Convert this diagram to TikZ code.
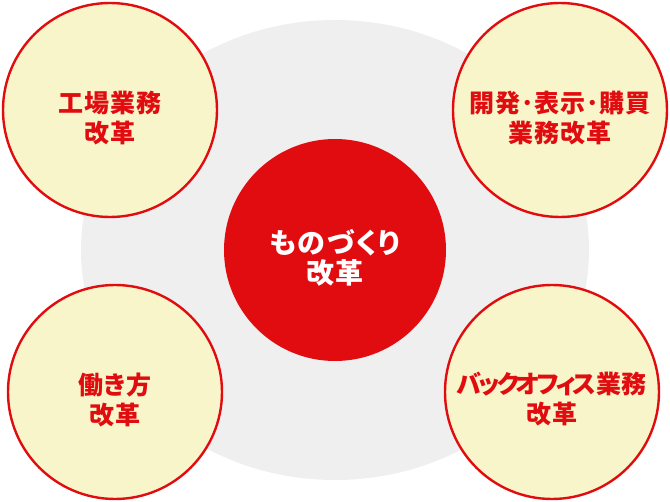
\documentclass[tikz,border=0pt]{standalone}
\usepackage{fontspec}
\usepackage{xcolor}
\usepackage{tikz}
\usetikzlibrary{positioning}
\newfontfamily\jpfont{Noto Sans CJK JP}[CharacterWidth=AlternateProportional,LetterSpace=3]
\definecolor{kaizenred}{HTML}{E10C0F}
\definecolor{kaizenyellow}{HTML}{F7F5C9}
\definecolor{kaizengray}{HTML}{EFEFEF}
\begin{document}
\begin{tikzpicture}[x=1pt,y=-1pt,
	outer/.style={circle,draw=kaizenred,line width=2.4pt,fill=kaizenyellow,minimum size=214pt,inner sep=0pt},
	core/.style={circle,fill=kaizenred,minimum size=222pt,inner sep=0pt},
	outertext/.style={align=center,text=kaizenred,font={\jpfont\bfseries\fontsize{25}{30}\selectfont}},
	coretext/.style={align=center,text=white,font={\jpfont\bfseries\fontsize{28}{30}\selectfont\addfontfeature{LetterSpace=6}}}]
		\useasboundingbox (0,0) rectangle (670,502);
		\fill[kaizengray] (335,250) ellipse [x radius=254, y radius=230];
		\node[core] at (335,250) (c0) {};
		\node[outer] at (110,110) (c1) {};
		\node[outer] at (560,110) (c2) {};
		\node[outer] at (115,392) (c3) {};
		\node[outer] at (552,392) (c4) {};
		% labels, set a little below the centres
		\node[coretext] at ([yshift=-8pt]c0.center) (t0) {ものづくり\\改革};
		\node[outertext] at ([yshift=-8pt]c1.center) (t1) {工場業務\\改革};
		\node[outertext] at ([yshift=-8pt]c2.center) (t2) {開発･表示･購買\\業務改革};
		\node[outertext] at ([yshift=-8pt]c3.center) (t3) {働き方\\改革};
		\node[outertext] at ([yshift=-7pt]c4.center) (t4) {{\addfontfeature{LetterSpace=-12}バックオフィス}業務\\改革};
	\end{tikzpicture}
\end{document}
